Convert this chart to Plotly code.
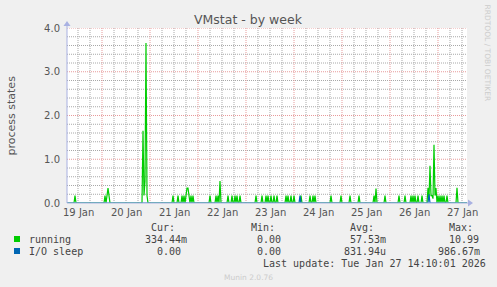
import plotly.graph_objects as go
import pandas as pd

# ---------------- data ----------------
range_start = "2026-01-19 06:30"
range_end = "2026-01-27 14:30"

running_times = [
    "2026-01-19 10:30",
    "2026-01-20 01:30", "2026-01-20 02:30", "2026-01-20 03:00", "2026-01-20 03:30",
    "2026-01-20 20:30", "2026-01-20 21:00", "2026-01-20 21:30", "2026-01-20 22:00", "2026-01-20 22:30",
    "2026-01-21 11:30", "2026-01-21 14:00", "2026-01-21 16:00", "2026-01-21 17:00",
    "2026-01-21 18:00", "2026-01-21 18:30", "2026-01-21 19:00", "2026-01-21 19:30",
    "2026-01-21 20:30", "2026-01-21 21:30",
    "2026-01-22 06:00", "2026-01-22 09:00", "2026-01-22 10:00", "2026-01-22 11:00",
    "2026-01-22 15:00", "2026-01-22 17:00", "2026-01-22 18:30", "2026-01-22 19:30", "2026-01-22 21:00",
    "2026-01-23 05:00", "2026-01-23 08:00", "2026-01-23 10:00", "2026-01-23 11:00",
    "2026-01-23 12:30", "2026-01-23 14:00", "2026-01-23 15:30",
    "2026-01-23 20:00", "2026-01-23 21:00", "2026-01-23 22:30",
    "2026-01-24 00:00", "2026-01-24 03:30", "2026-01-24 08:00", "2026-01-24 09:30", "2026-01-24 10:30",
    "2026-01-24 18:30", "2026-01-24 23:30",
    "2026-01-25 04:00", "2026-01-25 08:30", "2026-01-25 16:00", "2026-01-25 17:00", "2026-01-25 21:30",
    "2026-01-26 04:30", "2026-01-26 07:30", "2026-01-26 10:30", "2026-01-26 11:30",
    "2026-01-26 12:30", "2026-01-26 14:00", "2026-01-26 16:00",
    "2026-01-26 19:00", "2026-01-26 19:30", "2026-01-26 20:00", "2026-01-26 20:30",
    "2026-01-26 21:00", "2026-01-26 21:30", "2026-01-26 22:00", "2026-01-26 22:30", "2026-01-26 23:00",
    "2026-01-27 00:00", "2026-01-27 01:00", "2026-01-27 02:00", "2026-01-27 03:00",
    "2026-01-27 04:30", "2026-01-27 09:30",
]
running_vals = [
    0.17,
    0.17, 0.17, 0.34, 0.17,
    1.65, 0.17, 0.50, 3.66, 0.17,
    0.17, 0.17, 0.17, 0.17,
    0.17, 0.34, 0.34, 0.17,
    0.17, 0.17,
    0.17, 0.17, 0.17, 0.50,
    0.17, 0.17, 0.17, 0.17, 0.17,
    0.17, 0.17, 0.17, 0.17,
    0.17, 0.17, 0.17,
    0.17, 0.17, 0.17,
    0.17, 0.17, 0.17, 0.17, 0.17,
    0.17, 0.17,
    0.17, 0.17, 0.17, 0.33, 0.17,
    0.17, 0.17, 0.17, 0.17,
    0.17, 0.17, 0.17,
    0.35, 0.10, 0.85, 0.17,
    0.17, 0.10, 1.33, 0.17, 0.34,
    0.17, 0.17, 0.17, 0.17,
    0.17, 0.35,
]

iosleep_times = ["2026-01-24 03:00", "2026-01-26 19:30"]
iosleep_vals = [0.17, 0.20]

day_ticks = ["2026-01-19", "2026-01-20", "2026-01-21", "2026-01-22", "2026-01-23",
             "2026-01-24", "2026-01-25", "2026-01-26", "2026-01-27"]
day_labels = ["19 Jan", "20 Jan", "21 Jan", "22 Jan", "23 Jan",
              "24 Jan", "25 Jan", "26 Jan", "27 Jan"]
y_major = [0.0, 1.0, 2.0, 3.0, 4.0]
y_labels = ["0.0", "1.0", "2.0", "3.0", "4.0"]
y_minor_step = 0.2

legend_names = ["running", "I/O sleep"]
legend_colors = ["#00cc00", "#0066b3"]
cur_vals = ["334.44m", "0.00"]
min_vals = ["0.00", "0.00"]
avg_vals = ["57.53m", "831.94u"]
max_vals = ["10.99", "986.67m"]

# ---------------- series on the 30-min grid ----------------
idx = pd.date_range(range_start, range_end, freq="30min")
running = pd.Series(0.0, index=idx)
running.loc[pd.to_datetime(running_times)] = running_vals
iosleep = pd.Series(0.0, index=idx)
iosleep.loc[pd.to_datetime(iosleep_times)] = iosleep_vals

# ---------------- layout geometry ----------------
W, H = 497, 287
L, T, PW, PH = 67, 28, 400, 175


def px(x):
    return (x - L) / PW


def py(y):
    return (T + PH - y) / PH


FONT = "DejaVu Sans"
MONO = "DejaVu Sans Mono"
AXC = "#a9b1e2"
MAJ = "#e79a9a"
MIN = "#a8a8a8"
DASH = "1px,1px"

fig = go.Figure()

t0 = pd.Timestamp(range_start)
t1 = pd.Timestamp(range_end)
six_h = pd.date_range(pd.Timestamp(day_ticks[0]), t1, freq="6h")
six_h = [t for t in six_h if t >= t0]
gx, gy = [], []
for t in six_h:
    if t.hour != 0:
        gx += [t, t, None]
        gy += [0, 4, None]
ny = int(round(4 / y_minor_step))
for k in range(1, ny):
    v = k * y_minor_step
    if abs(v - round(v)) > 1e-6:
        gx += [t0, t1, None]
        gy += [v, v, None]
fig.add_trace(go.Scatter(x=gx, y=gy, mode="lines", hoverinfo="skip", showlegend=False,
                         line=dict(color=MIN, width=1, dash=DASH)))
rx, ry = [], []
for d in day_ticks:
    t = pd.Timestamp(d)
    if t0 <= t <= t1:
        rx += [t, t, None]
        ry += [0, 4, None]
for v in y_major[1:]:
    rx += [t0, t1, None]
    ry += [v, v, None]
fig.add_trace(go.Scatter(x=rx, y=ry, mode="lines", hoverinfo="skip", showlegend=False,
                         line=dict(color=MAJ, width=1, dash=DASH)))

fig.add_trace(go.Scatter(x=idx, y=running.values, mode="lines", name="running",
                         line=dict(color=legend_colors[0], width=1.2), showlegend=False))
fig.add_trace(go.Scatter(x=idx, y=iosleep.values, mode="lines", name="I/O sleep",
                         line=dict(color=legend_colors[1], width=1.2), showlegend=False))

noon = [pd.Timestamp(d) + pd.Timedelta(hours=12) for d in day_ticks]

annotations = []
for t, lab in zip(noon, day_labels):
    annotations.append(dict(x=t, y=py(212), xref="x", yref="paper", text=lab,
                            showarrow=False, xanchor="center", yanchor="middle",
                            font=dict(family=FONT, size=10, color="#555555")))
annotations.append(dict(x=px(248.5), y=py(19), xref="paper", yref="paper",
                        text="VMstat - by week", showarrow=False,
                        xanchor="center", yanchor="middle",
                        font=dict(family=FONT, size=12.5, color="#555555")))
annotations.append(dict(x=px(11), y=py(115.5), xref="paper", yref="paper",
                        text="process states", showarrow=False, textangle=-90,
                        xanchor="center", yanchor="middle",
                        font=dict(family=FONT, size=11, color="#555555")))
annotations.append(dict(x=px(487.5), y=py(53), xref="paper", yref="paper",
                        text="RRDTOOL / TOBI OETIKER", showarrow=False, textangle=90,
                        xanchor="center", yanchor="middle",
                        font=dict(family=FONT, size=7.5, color="#cccccc")))
annotations.append(dict(x=px(248), y=py(277), xref="paper", yref="paper",
                        text="Munin 2.0.76", showarrow=False,
                        xanchor="center", yanchor="middle",
                        font=dict(family=FONT, size=7.5, color="#cccccc")))


def mono(xl, yc, text, color="#444444"):
    annotations.append(dict(x=px(xl), y=py(yc), xref="paper", yref="paper",
                            text=text.replace(" ", "&nbsp;"), showarrow=False,
                            xanchor="left", yanchor="middle",
                            font=dict(family=MONO, size=10, color=color)))


mono(149, 227, "Cur:")
mono(249, 227, "Min:")
mono(348, 227, "Avg:")
mono(447, 227, "Max:")
row_y = [239, 251]
cur_x = [143, 155]
min_x = [255, 255]
avg_x = [348, 342]
max_x = [447, 436]
shapes = []
for i in range(2):
    mono(27, row_y[i], legend_names[i])
    mono(cur_x[i], row_y[i], cur_vals[i])
    mono(min_x[i], row_y[i], min_vals[i])
    mono(avg_x[i], row_y[i], avg_vals[i])
    mono(max_x[i], row_y[i], max_vals[i])
    shapes.append(dict(type="rect", xref="paper", yref="paper",
                       x0=px(14), x1=px(20), y0=py(row_y[i] + 3), y1=py(row_y[i] - 3),
                       fillcolor=legend_colors[i], line=dict(width=0)))
mono(261, 263, "Last update: Tue Jan 27 14:10:01 2026")

shapes.append(dict(type="line", xref="paper", yref="paper", x0=px(67), x1=px(469),
                   y0=py(203), y1=py(203), line=dict(color=AXC, width=1), layer="above"))
shapes.append(dict(type="path", xref="paper", yref="paper",
                   path=f"M {px(468)} {py(199.5)} L {px(473)} {py(203)} L {px(468)} {py(206.5)} Z",
                   fillcolor=AXC, line=dict(width=0), layer="above"))
shapes.append(dict(type="line", xref="paper", yref="paper", x0=px(67), x1=px(67),
                   y0=py(203), y1=py(24), line=dict(color=AXC, width=1), layer="above"))
shapes.append(dict(type="path", xref="paper", yref="paper",
                   path=f"M {px(63.5)} {py(26)} L {px(67)} {py(21)} L {px(70.5)} {py(26)} Z",
                   fillcolor=AXC, line=dict(width=0), layer="above"))

fig.update_layout(
    width=W, height=H,
    margin=dict(l=L, r=W - L - PW, t=T, b=H - T - PH, pad=0),
    paper_bgcolor="#f0f0f0", plot_bgcolor="#ffffff",
    showlegend=False,
    xaxis=dict(
        range=[range_start, range_end], type="date",
        showticklabels=False, ticks="", showgrid=False,
        zeroline=False, showline=False, fixedrange=True,
    ),
    yaxis=dict(
        range=[0, 4], tickmode="array", tickvals=y_major, ticktext=y_labels,
        ticks="", ticklabelstandoff=6,
        tickfont=dict(family=FONT, size=10, color="#555555"),
        showgrid=False, zeroline=False, showline=False, fixedrange=True,
    ),
    annotations=annotations,
    shapes=shapes,
)

fig.write_html("out.html")
